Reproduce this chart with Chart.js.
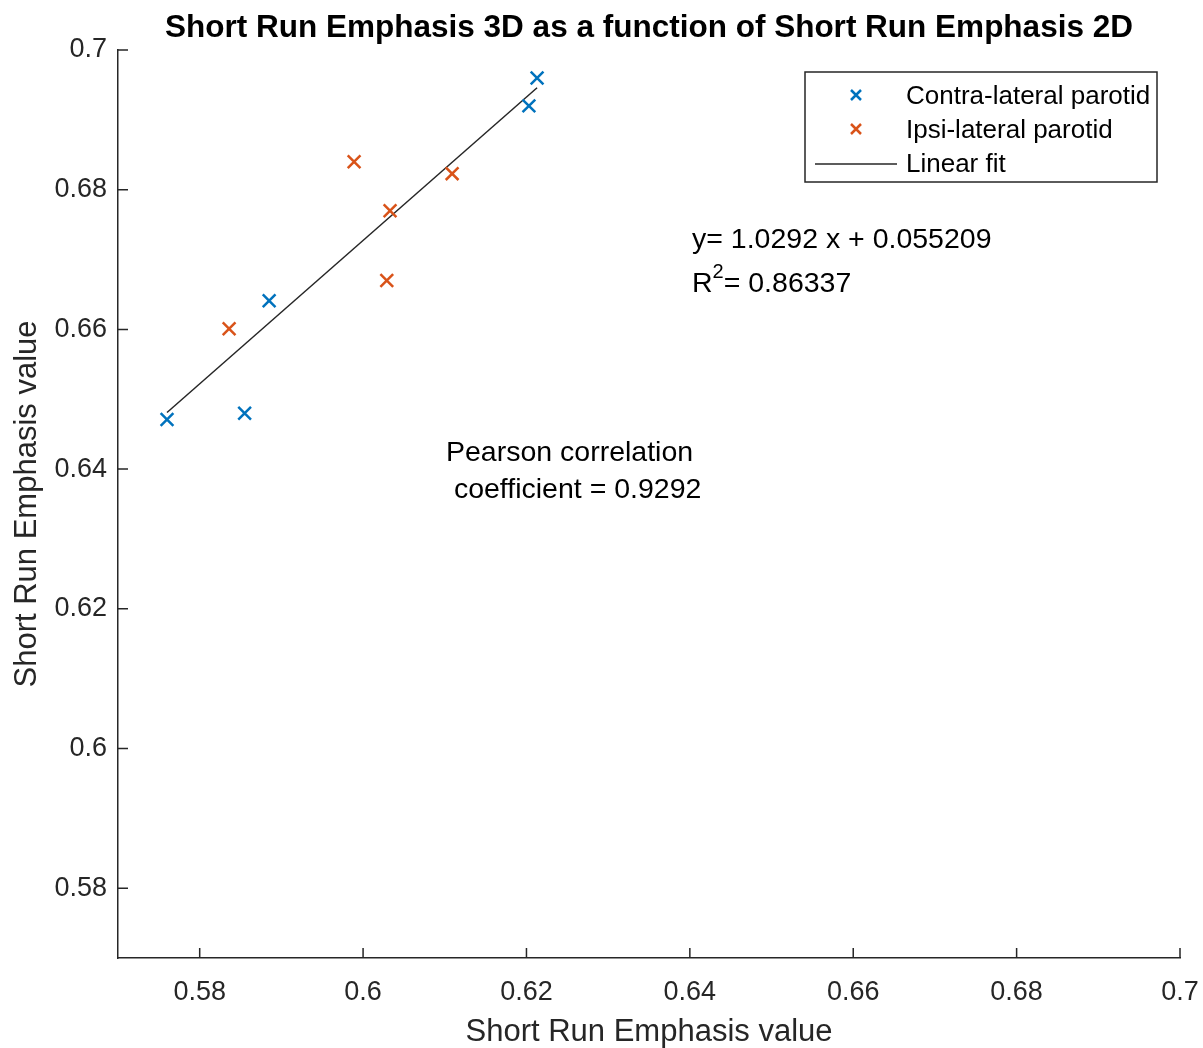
<!DOCTYPE html>
<html>
<head>
<meta charset="utf-8">
<script src="https://cdn.jsdelivr.net/npm/chart.js@4/dist/chart.umd.min.js"></script>
<style>
  html, body { margin: 0; padding: 0; background: #fff; }
  #wrap { width: 1203px; height: 1048px; }
</style>
</head>
<body>
<div id="wrap"><canvas id="myScatter"></canvas></div>
<script>
// data
var contraX = [0.5760, 0.5855, 0.5885, 0.6203, 0.6213];
var contraY = [0.6471, 0.6480, 0.6641, 0.6920, 0.6960];
var ipsiX = [0.5836, 0.5989, 0.6033, 0.6029, 0.6109];
var ipsiY = [0.6601, 0.6840, 0.6770, 0.6670, 0.6823];
var fitX = [0.5760, 0.6213];
var fitY = [0.6481, 0.6946];
var xTicks = [0.58, 0.60, 0.62, 0.64, 0.66, 0.68, 0.70];
var yTicks = [0.58, 0.60, 0.62, 0.64, 0.66, 0.68, 0.70];

var FONT = "'Liberation Sans', Arial, sans-serif";
var INK = '#262626';
var BLUE = '#0072BD';
var RED = '#D95319';

function toPoints(xs, ys) {
    return xs.map((x, i) => ({ x: x, y: ys[i] }));
}

function fmt(v) {
    return String(+v.toFixed(2));
}

function drawCross(ctx, x, y, r, color) {
    ctx.save();
    ctx.strokeStyle = color;
    ctx.lineWidth = 2.5;
    ctx.beginPath();
    ctx.moveTo(x - r, y - r); ctx.lineTo(x + r, y + r);
    ctx.moveTo(x - r, y + r); ctx.lineTo(x + r, y - r);
    ctx.stroke();
    ctx.restore();
}

// inward ticks, title, legend and text annotations
var extras = {
    id: 'extras',
    afterDraw(chart) {
        const ctx = chart.ctx;
        const xs = chart.scales.x, ys = chart.scales.y;
        const a = chart.chartArea;
        ctx.save();
        ctx.strokeStyle = INK;
        ctx.lineWidth = 1.5;
        ctx.beginPath();
        xTicks.forEach(v => {
            const px = xs.getPixelForValue(v);
            ctx.moveTo(px, a.bottom); ctx.lineTo(px, a.bottom - 10);
        });
        yTicks.forEach(v => {
            const py = ys.getPixelForValue(v);
            ctx.moveTo(a.left, py); ctx.lineTo(a.left + 10, py);
        });
        ctx.stroke();

        // title
        ctx.fillStyle = '#000';
        ctx.textAlign = 'center';
        ctx.textBaseline = 'middle';
        ctx.font = 'bold 31.5px ' + FONT;
        ctx.fillText('Short Run Emphasis 3D as a function of Short Run Emphasis 2D', (a.left + a.right) / 2, 28);

        // legend
        ctx.strokeStyle = INK;
        ctx.lineWidth = 1.5;
        ctx.fillStyle = '#fff';
        ctx.fillRect(805, 72, 352, 110);
        ctx.strokeRect(805, 72, 352, 110);
        drawCross(ctx, 856, 95, 5, BLUE);
        drawCross(ctx, 856, 129, 5, RED);
        ctx.beginPath();
        ctx.moveTo(815, 164); ctx.lineTo(897, 164);
        ctx.strokeStyle = INK;
        ctx.lineWidth = 1.5;
        ctx.stroke();
        ctx.fillStyle = '#000';
        ctx.textAlign = 'left';
        ctx.font = '26px ' + FONT;
        ctx.fillText('Contra-lateral parotid', 906, 97);
        ctx.fillText('Ipsi-lateral parotid', 906, 131);
        ctx.fillText('Linear fit', 906, 165);

        // fit equation
        ctx.font = '28.5px ' + FONT;
        ctx.fillText('y= 1.0292 x + 0.055209', 692, 240);
        ctx.fillText('R', 692, 284);
        let w = ctx.measureText('R').width;
        ctx.font = '20px ' + FONT;
        ctx.fillText('2', 692 + w, 272);
        let w2 = ctx.measureText('2').width;
        ctx.font = '28.5px ' + FONT;
        ctx.fillText('= 0.86337', 692 + w + w2, 284);

        ctx.fillText('Pearson correlation', 446, 453);
        ctx.fillText(' coefficient = 0.9292', 446, 490);
        ctx.restore();
    }
};

var data = {
    datasets: [
        {
            label: 'Contra-lateral parotid',
            data: toPoints(contraX, contraY),
            showLine: false,
            pointStyle: 'crossRot',
            pointRadius: 9,
            pointBorderWidth: 2.5,
            borderColor: BLUE,
            backgroundColor: BLUE
        },
        {
            label: 'Ipsi-lateral parotid',
            data: toPoints(ipsiX, ipsiY),
            showLine: false,
            pointStyle: 'crossRot',
            pointRadius: 9,
            pointBorderWidth: 2.5,
            borderColor: RED,
            backgroundColor: RED
        },
        {
            label: 'Linear fit',
            data: toPoints(fitX, fitY),
            showLine: true,
            pointRadius: 0,
            borderWidth: 1.5,
            borderColor: INK
        }
    ]
};

var options = {
    responsive: true,
    maintainAspectRatio: false,
    animation: false,
    layout: { padding: { top: 50, right: 23, left: 0, bottom: 0 } },
    plugins: {
        legend: { display: false },
        tooltip: { enabled: false },
        title: { display: false }
    },
    scales: {
        x: {
            type: 'linear',
            min: 0.57,
            max: 0.7,
            afterBuildTicks: s => { s.ticks = xTicks.map(v => ({ value: v })); },
            afterFit: s => { s.height = 90; s.paddingRight = 0; s.paddingLeft = 0; },
            grid: { display: false, drawTicks: false },
            border: { display: true, color: INK, width: 1.5 },
            ticks: {
                color: INK,
                padding: 18,
                maxRotation: 0,
                font: { family: FONT, size: 27 },
                callback: v => fmt(v)
            },
            title: {
                display: true,
                text: 'Short Run Emphasis value',
                color: INK,
                padding: { top: 0, bottom: 0 },
                font: { family: FONT, size: 31, lineHeight: 1.0 }
            }
        },
        y: {
            type: 'linear',
            min: 0.57,
            max: 0.7,
            afterBuildTicks: s => { s.ticks = yTicks.map(v => ({ value: v })); },
            afterFit: s => { s.width = 118; s.paddingTop = 0; s.paddingBottom = 0; },
            grid: { display: false, drawTicks: false },
            border: { display: true, color: INK, width: 1.5 },
            ticks: {
                color: INK,
                padding: 11,
                font: { family: FONT, size: 27 },
                callback: v => fmt(v)
            },
            title: {
                display: true,
                text: 'Short Run Emphasis value',
                color: INK,
                padding: { top: 9, bottom: 0 },
                font: { family: FONT, size: 31 }
            }
        }
    }
};

var ctx = document.getElementById('myScatter').getContext('2d');
var myScatter = new Chart(ctx, {
    type: 'scatter',
    data: data,
    options: options,
    plugins: [extras]
});
</script>
</body>
</html>
